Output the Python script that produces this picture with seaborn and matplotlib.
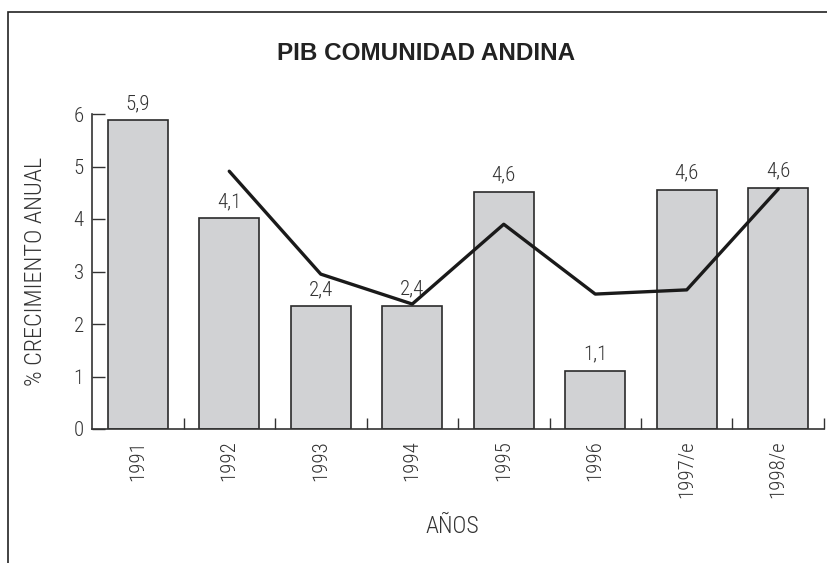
import matplotlib
matplotlib.use("Agg")
import matplotlib.pyplot as plt
import matplotlib.patches as mpatches
import seaborn as sns
import pandas as pd

# data
years = ["1991", "1992", "1993", "1994", "1995", "1996", "1997/e", "1998/e"]
growth = [5.88, 4.02, 2.34, 2.35, 4.52, 1.10, 4.56, 4.60]
growth_labels = ["5,9", "4,1", "2,4", "2,4", "4,6", "1,1", "4,6", "4,6"]
trend_years = years[1:]
trend = [4.91, 2.95, 2.38, 3.90, 2.57, 2.65, 4.57]

sns.set_style("ticks")
plt.rcParams["font.family"] = ["Roboto Condensed", "DejaVu Sans"]
plt.rcParams["font.weight"] = 300
txt = "#333333"

fig = plt.figure(figsize=(8.27, 5.63), dpi=100)
ax = fig.add_axes([92 / 827, 1 - 429 / 563, 732 / 827, 315 / 563])

df = pd.DataFrame({"year": years, "growth": growth})
sns.barplot(data=df, x="year", y="growth", color="#d1d2d4", saturation=1,
            edgecolor="#2b2b2b", linewidth=1.2, width=0.66, ax=ax)

# trend line over the bars, at the category positions
pos = [years.index(y) for y in trend_years]
sns.lineplot(x=pos, y=trend, color="#1a1a1a", linewidth=2.4, ax=ax)

ax.bar_label(ax.containers[0], labels=growth_labels, padding=5,
             fontsize=15, color=txt, fontweight=300, clip_on=False)

ax.set_xlim(-0.5, len(years) - 0.5)
ax.set_ylim(0, 6)
ax.set_yticks(range(0, 7))
ax.tick_params(axis="y", direction="in", length=9, width=1, color="#333333",
               labelsize=15, labelcolor=txt, pad=6)
ax.set_xticks(range(len(years)))
ax.set_xticklabels(years, fontweight=300)
ax.tick_params(axis="x", which="major", length=0, labelsize=15,
               labelcolor=txt, pad=8, labelrotation=90)
ax.set_xticks([i + 0.5 for i in range(len(years))], minor=True)
ax.tick_params(axis="x", which="minor", direction="in", length=8, width=1,
               color="#333333")

for s in ["top", "right"]:
    ax.spines[s].set_visible(False)
for s in ["left", "bottom"]:
    ax.spines[s].set_color("#333333")
    ax.spines[s].set_linewidth(1.2)

ax.set_xlabel("AÑOS", fontsize=17, color=txt, fontweight=300)
ax.set_ylabel("% CRECIMIENTO ANUAL", fontsize=17.5, color=txt, fontweight=300)
ax.xaxis.set_label_coords((452 - 92) / 732, (429 - 515) / 315)
ax.yaxis.set_label_coords((47 - 92) / 732, (429 - 271) / 315)

fig.text(426 / 827, 1 - 53 / 563, "PIB COMUNIDAD ANDINA", ha="center",
         va="center", fontsize=17.5, fontweight="bold", color="#222222",
         family=["Liberation Sans", "DejaVu Sans"])

# outer frame of the original page (only left and top edges visible)
fig.add_artist(mpatches.Rectangle((8 / 827, -0.2), 1.2, 1 - 12 / 563 + 0.2,
                                  transform=fig.transFigure, fill=False,
                                  edgecolor="#222222", linewidth=1.2,
                                  clip_on=False))

fig.savefig("out.png", dpi=100)
